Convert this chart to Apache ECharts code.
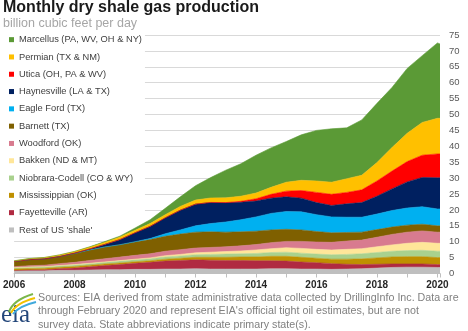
<!DOCTYPE html>
<html><head><meta charset="utf-8">
<script src="https://cdn.jsdelivr.net/npm/echarts@6/dist/echarts.min.js"></script>
<style>html,body{margin:0;padding:0;background:#fff}#c{width:468px;height:331px}</style>
</head><body><div id="c"></div>
<script>
// ---- data (billion cubic feet per day), semi-annual readings + last month ----
const months = ['2006-01','2006-07','2007-01','2007-07','2008-01','2008-07','2009-01','2009-07','2010-01','2010-07',
  '2011-01','2011-07','2012-01','2012-07','2013-01','2013-07','2014-01','2014-07','2015-01','2015-07',
  '2016-01','2016-07','2017-01','2017-07','2018-01','2018-07','2019-01','2019-07','2020-01','2020-02'];
const restOfUS     = [0.8,0.9,0.85,1.0,1.0,1.1,1.2,1.2,1.3,1.3,1.4,1.4,1.5,1.4,1.4,1.4,1.4,1.5,1.5,1.4,1.4,1.3,1.4,1.5,1.7,1.9,2.0,2.0,1.9,1.9];
const fayetteville = [0.1,0.2,0.3,0.5,0.7,1.0,1.3,1.6,1.9,2.2,2.5,2.7,2.8,2.8,2.7,2.7,2.6,2.5,2.4,2.2,2.0,1.8,1.5,1.3,1.2,1.1,1.0,1.0,0.9,0.9];
const mississippian= [0.5,0.5,0.5,0.45,0.5,0.5,0.5,0.5,0.5,0.5,0.6,0.7,0.8,0.9,1.0,1.1,1.2,1.4,1.5,1.5,1.4,1.4,1.6,1.8,2.0,2.2,2.3,2.3,2.2,2.2];
const niobrara     = [0.4,0.4,0.4,0.45,0.5,0.5,0.5,0.6,0.6,0.6,0.7,0.7,0.8,0.9,1.0,1.0,1.1,1.2,1.3,1.3,1.3,1.4,1.5,1.6,1.7,1.8,1.9,2.0,2.0,2.0];
const bakken       = [0.05,0.05,0.1,0.1,0.1,0.1,0.15,0.15,0.2,0.3,0.4,0.5,0.6,0.7,0.8,0.9,1.1,1.2,1.4,1.5,1.5,1.5,1.6,1.6,1.8,2.0,2.3,2.5,2.5,2.5];
const woodford     = [0.3,0.4,0.45,0.6,0.7,0.9,1.0,1.1,1.2,1.3,1.4,1.5,1.5,1.5,1.5,1.6,1.7,1.9,2.0,2.2,2.3,2.4,2.6,2.7,3.0,3.3,3.5,3.6,3.5,3.5];
const barnett      = [1.6,1.9,2.0,2.2,2.8,3.3,3.7,3.9,4.2,4.5,4.7,4.9,5.0,4.9,4.6,4.4,4.2,4.0,3.8,3.6,3.3,3.0,2.7,2.5,2.4,2.3,2.2,2.1,2.0,2.0];
const eagleFord    = [0,0,0,0,0,0,0,0,0.1,0.3,0.8,1.3,2.0,2.6,3.2,3.8,4.5,5.2,5.6,5.7,5.3,5.0,4.8,4.7,4.9,5.2,5.4,5.5,5.3,5.3];
const haynesville  = [0,0,0,0,0.1,0.3,0.8,1.6,2.8,3.8,5.0,6.2,6.8,6.6,6.0,5.5,5.0,4.8,4.6,4.3,3.8,3.6,4.2,4.6,5.6,6.8,8.2,9.2,9.8,9.8];
const utica        = [0,0,0,0,0,0,0,0,0,0,0,0,0,0.05,0.1,0.3,0.7,1.2,1.8,2.4,3.2,3.5,3.6,4.0,4.8,5.6,6.4,7.0,7.5,7.5];
const permian      = [0.2,0.3,0.4,0.5,0.5,0.6,0.7,0.8,0.8,0.9,1.0,1.2,1.3,1.4,1.5,1.6,1.8,2.2,2.8,3.2,3.6,3.8,4.3,4.6,5.8,7.4,8.9,10.3,11.2,11.2];
const marcellus    = [0.05,0.05,0.05,0.05,0.05,0.1,0.2,0.3,0.7,1.2,2.0,3.0,4.5,6.4,8.7,10.2,11.9,12.4,12.8,14.3,15.9,16.8,16.0,17.4,18.6,18.9,20.4,21.0,23.7,23.4];
const yTicks = {min: 0, max: 75, step: 5};
const xRange = {min: '2006-01', max: '2020-02', labelEveryYears: 2};

// bottom-to-top stacking order
const seriesDefs = [
  ["Rest of US 'shale'", restOfUS, '#bfbfbf'],
  ['Fayetteville (AR)', fayetteville, '#b02a41'],
  ['Mississippian (OK)', mississippian, '#bf9000'],
  ['Niobrara-Codell (CO & WY)', niobrara, '#a9d18e'],
  ['Bakken (ND & MT)', bakken, '#ffe699'],
  ['Woodford (OK)', woodford, '#d87b8f'],
  ['Barnett (TX)', barnett, '#7f6000'],
  ['Eagle Ford (TX)', eagleFord, '#00b0f0'],
  ['Haynesville (LA & TX)', haynesville, '#002060'],
  ['Utica (OH, PA & WV)', utica, '#ff0000'],
  ['Permian (TX & NM)', permian, '#ffc000'],
  ['Marcellus (PA, WV, OH & NY)', marcellus, '#5b9a36']
];
const FONT = "'Liberation Sans', Arial, sans-serif";
const YEAR = 365.25 * 24 * 3600 * 1000;

const chart = echarts.init(document.getElementById('c'), null, {renderer: 'canvas'});
chart.setOption({
  animation: false,
  backgroundColor: '#fff',
  title: {
    text: 'Monthly dry shale gas production',
    subtext: 'billion cubic feet per day',
    left: 1, top: -2, itemGap: 1, padding: [2, 2, 2, 2],
    textStyle: {fontFamily: FONT, fontSize: 16, fontWeight: 'bold', color: '#1a1a1a'},
    subtextStyle: {fontFamily: FONT, fontSize: 12.5, color: '#a6a6a6'}
  },
  legend: {
    z: 1,
    orient: 'vertical', left: 7, top: 33, itemWidth: 5, itemHeight: 5, itemGap: 6,
    icon: 'rect', padding: [1, 3, 1, 2], backgroundColor: '#fff',
    textStyle: {fontFamily: FONT, fontSize: 9.3, color: '#404040', lineHeight: 11.3},
    data: seriesDefs.map(d => d[0]).reverse()
  },
  grid: {left: 13, right: 28, top: 35, bottom: 57.5, containLabel: false},
  xAxis: {
    type: 'time', min: xRange.min, max: xRange.max,
    minInterval: YEAR * 0.9, maxInterval: YEAR * 1.1, splitNumber: 14,
    axisLine: {show: true, lineStyle: {color: '#bfbfbf', width: 1}},
    axisTick: {show: true, length: 4, lineStyle: {color: '#bfbfbf'}},
    splitLine: {show: false},
    axisLabel: {
      margin: 7, fontFamily: FONT, fontSize: 10, fontWeight: 'bold', color: '#262626',
      showMinLabel: true, showMaxLabel: true, hideOverlap: false,
      formatter: v => { const d = new Date(v); const y = d.getFullYear();
        return (d.getMonth() === 0 && y % xRange.labelEveryYears === 0) ? String(y) : ''; }
    }
  },
  yAxis: {
    type: 'value', position: 'right', min: yTicks.min, max: yTicks.max, interval: yTicks.step,
    axisLine: {show: false}, axisTick: {show: false},
    splitLine: {show: true, lineStyle: {color: '#d9d9d9', width: 1}},
    axisLabel: {margin: 9, fontFamily: FONT, fontSize: 9.5, color: '#595959'}
  },
  series: seriesDefs.map(([name, vals, color]) => ({
    name, type: 'line', stack: 'total', symbol: 'none', smooth: false, z: 2,
    data: vals.map((v, i) => [months[i], v]),
    lineStyle: {width: 0.6, color},
    itemStyle: {color},
    areaStyle: {color, opacity: 1}
  })),
  graphic: [
    {type: 'text', left: 38, top: 291,
     style: {text: "Sources: EIA derived from state administrative data collected by DrillingInfo Inc. Data are\nthrough February 2020 and represent EIA's official tight oil estimates, but are not\nsurvey data. State abbreviations indicate primary state(s).",
       fontFamily: FONT, fontSize: 10.7, lineHeight: 13.6, fill: '#808080'}},
    {type: 'text', left: 1, top: 303,
     style: {text: 'eia', fontFamily: "'Liberation Serif', 'DejaVu Serif', serif", fontSize: 25, fill: '#23467a'}},
    {type: 'bezierCurve', shape: {x1: 9, y1: 312, x2: 33, y2: 294, cpx1: 13, cpy1: 300}, style: {stroke: '#7ab648', lineWidth: 2, fill: null}},
    {type: 'bezierCurve', shape: {x1: 11, y1: 313, x2: 35, y2: 298, cpx1: 16, cpy1: 303}, style: {stroke: '#f2c200', lineWidth: 2, fill: null}},
    {type: 'bezierCurve', shape: {x1: 13, y1: 314, x2: 36, y2: 302, cpx1: 19, cpy1: 306}, style: {stroke: '#3fa9dc', lineWidth: 2, fill: null}}
  ]
});
</script></body></html>
